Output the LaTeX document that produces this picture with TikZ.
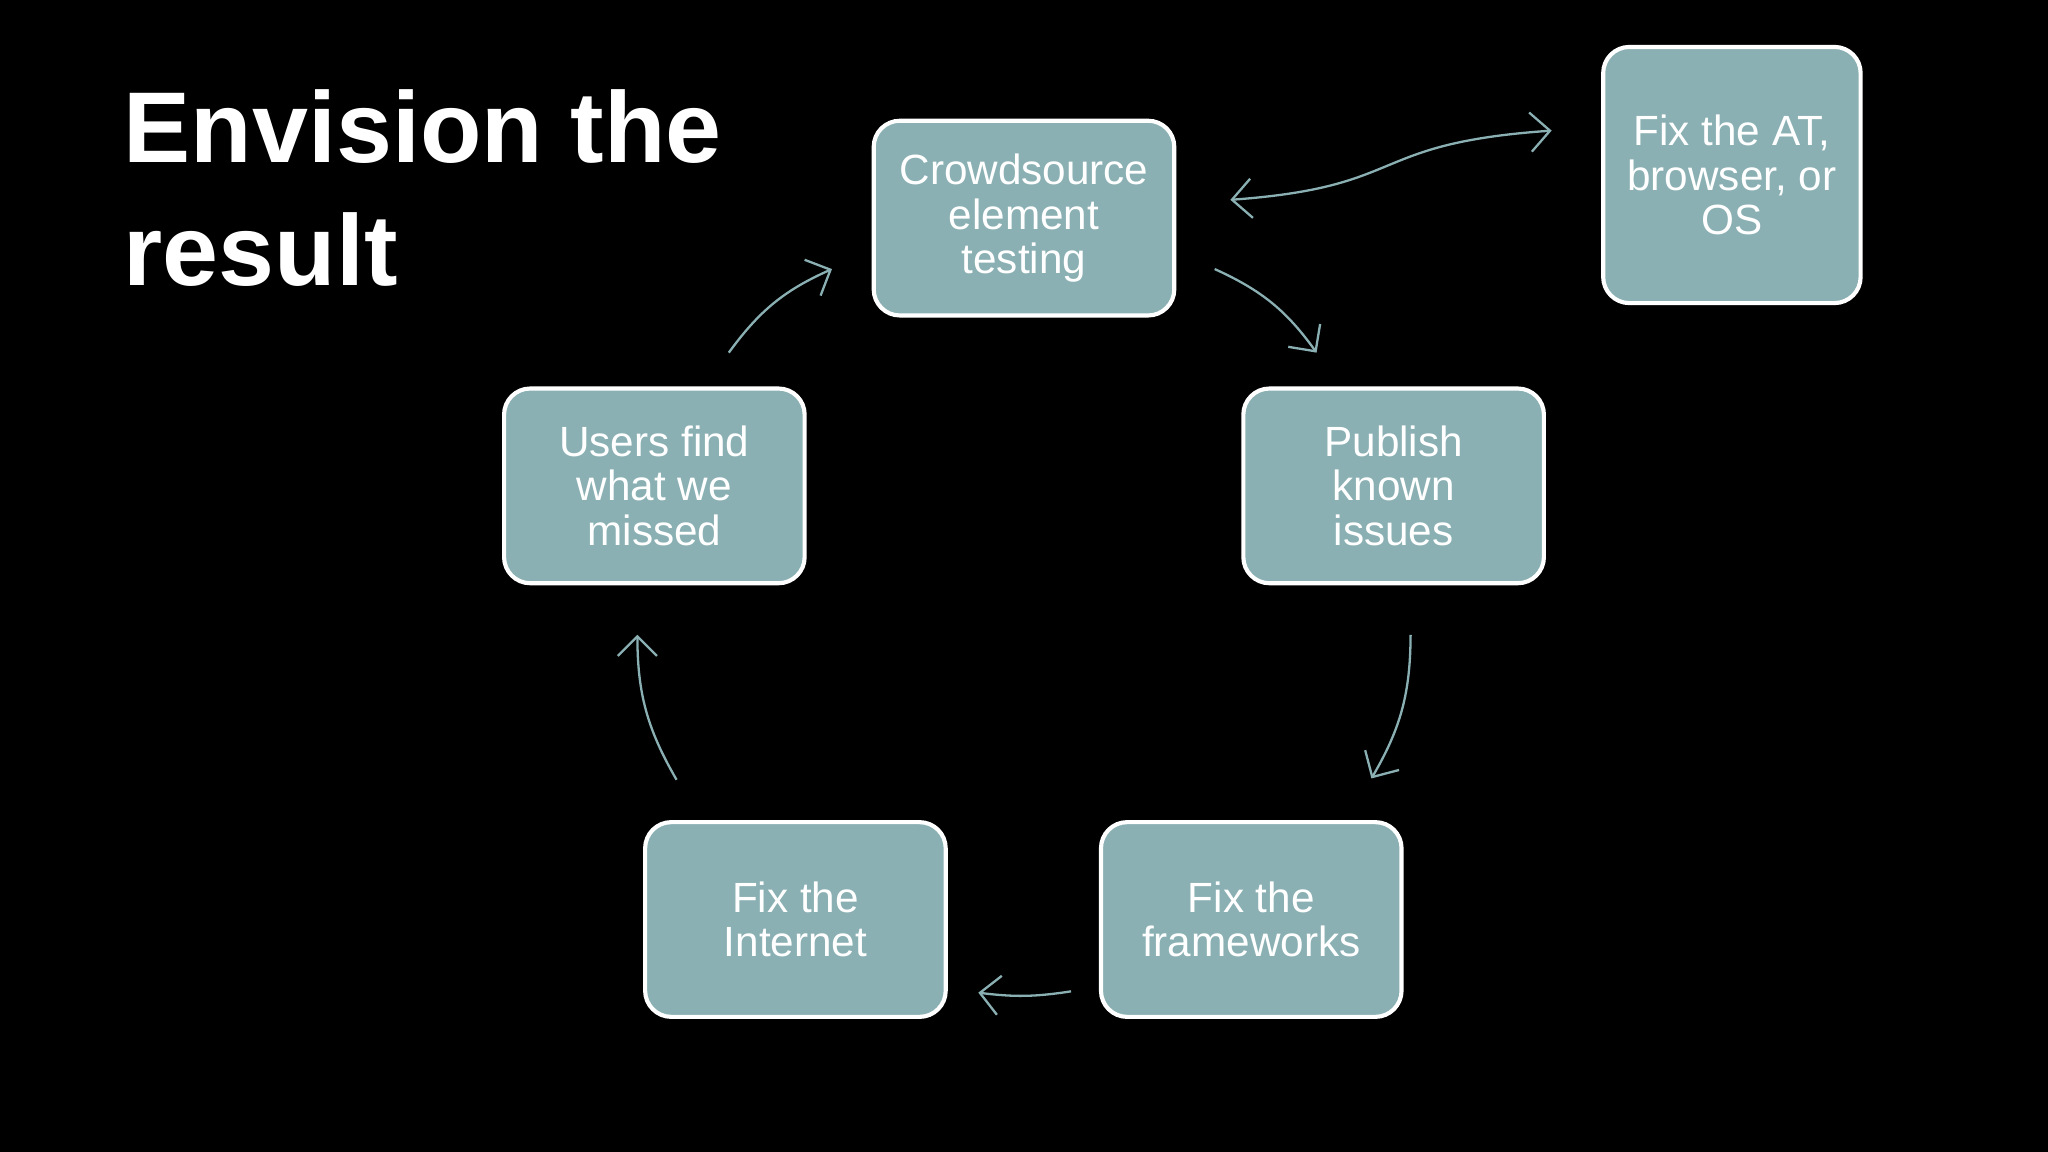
\documentclass[tikz,border=0pt]{standalone}
\usepackage{fontspec}
\setmainfont{Liberation Sans}
\usetikzlibrary{arrows.meta}
\definecolor{boxc}{HTML}{8AB0B3}
\begin{document}
\begin{tikzpicture}[x=0.01cm,y=-0.01cm,
  box/.style={draw=white,line width=0.9pt,fill=boxc,rounded corners=0.2cm,text=white,align=center,
    font=\fontsize{9.2pt}{9.7pt}\selectfont,inner sep=0pt},
  arr/.style={draw=boxc,line width=0.5pt,-{Straight Barb[length=0.15cm,width=0.3cm]}}]
\fill[black] (0,0) rectangle (1568,882);
\useasboundingbox (0,0) rectangle (1568,882);
\node[anchor=north west,text=white,align=left,font=\fontsize{21.9pt}{26.7pt}\selectfont\bfseries,inner sep=0pt] (title) at (94,68) {Envision the\\result};
\node[box,minimum width=2.3cm,minimum height=1.49cm] (crowd) at (784,167) {Crowdsource\\element\\testing};
\node[box,minimum width=1.97cm,minimum height=1.96cm] (fixat) at (1326,134) {Fix the AT,\\browser, or\\OS};
\node[box,minimum width=2.3cm,minimum height=1.49cm] (pub) at (1067,372) {Publish\\known\\issues};
\node[box,minimum width=2.3cm,minimum height=1.49cm] (users) at (501,372) {Users find\\what we\\missed};
\node[box,minimum width=2.3cm,minimum height=1.49cm] (frame) at (958,704) {Fix the\\frameworks};
\node[box,minimum width=2.3cm,minimum height=1.49cm] (inet) at (609,704) {Fix the\\Internet};
\coordinate (a1) at (558,270); \coordinate (a2) at (637,206);
\coordinate (b1) at (930,206); \coordinate (b2) at (1008,270);
\coordinate (c1) at (1080,486); \coordinate (c2) at (1050,596);
\coordinate (d1) at (820,759); \coordinate (d2) at (749,760);
\coordinate (e1) at (518,597); \coordinate (e2) at (488,486);
\coordinate (f1) at (942,153); \coordinate (f2) at (1188,100);
\draw[arr] (a1) to[bend left=15] (a2);
\draw[arr] (b1) to[bend left=15] (b2);
\draw[arr] (c1) to[bend left=15] (c2);
\draw[arr] (d1) to[bend left=8] (d2);
\draw[arr] (e1) to[bend left=15] (e2);
\draw[arr,{Straight Barb[length=0.15cm,width=0.3cm]}-{Straight Barb[length=0.15cm,width=0.3cm]}] (f1) .. controls (1080,143) and (1045,110) .. (f2);
\end{tikzpicture}
\end{document}
